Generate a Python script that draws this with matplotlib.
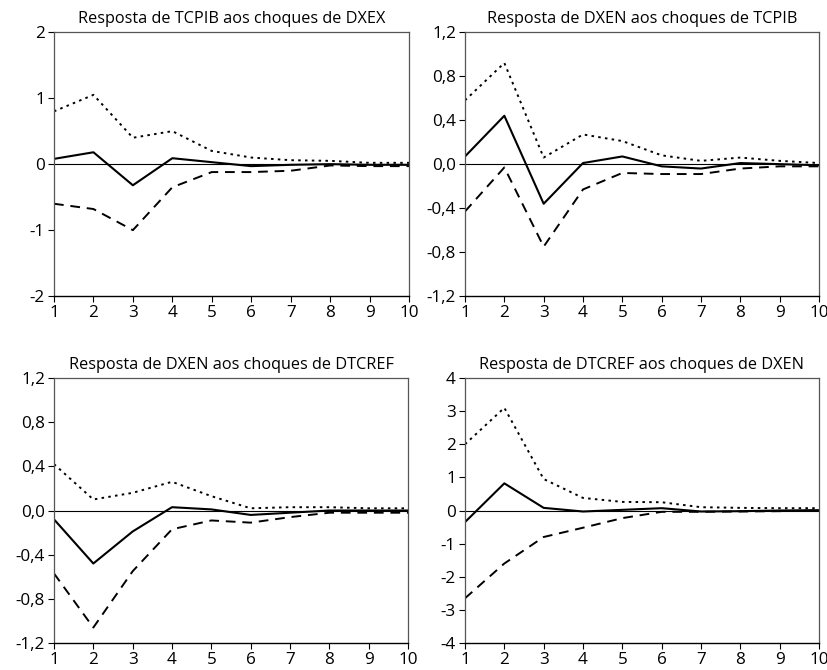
import numpy as np
import matplotlib
matplotlib.use('Agg')
import matplotlib.pyplot as plt

plt.rcParams['font.family'] = ['Open Sans', 'DejaVu Sans']

# --- Dati (periodi 1..10) ---
periodi = np.arange(1, 11)

# Resposta de TCPIB aos choques de DXEX
tcpib_dxex = [0.08, 0.18, -0.32, 0.09, 0.03, -0.03, -0.01, 0.0, -0.01, -0.01]
tcpib_dxex_sup = [0.80, 1.05, 0.40, 0.50, 0.20, 0.10, 0.06, 0.05, 0.02, 0.02]
tcpib_dxex_inf = [-0.60, -0.68, -1.00, -0.35, -0.12, -0.12, -0.10, -0.02, -0.03, -0.03]

# Resposta de DXEN aos choques de TCPIB
dxen_tcpib = [0.07, 0.44, -0.36, 0.01, 0.07, -0.02, -0.04, 0.01, 0.0, -0.01]
dxen_tcpib_sup = [0.58, 0.92, 0.06, 0.27, 0.21, 0.08, 0.03, 0.06, 0.03, 0.01]
dxen_tcpib_inf = [-0.43, -0.03, -0.75, -0.23, -0.08, -0.09, -0.09, -0.04, -0.02, -0.02]

# Resposta de DXEN aos choques de DTCREF
dxen_dtcref = [-0.08, -0.48, -0.19, 0.03, 0.01, -0.04, -0.02, 0.0, 0.0, 0.0]
dxen_dtcref_sup = [0.42, 0.10, 0.16, 0.26, 0.13, 0.02, 0.03, 0.03, 0.02, 0.02]
dxen_dtcref_inf = [-0.57, -1.06, -0.55, -0.17, -0.09, -0.11, -0.06, -0.02, -0.02, -0.02]

# Resposta de DTCREF aos choques de DXEN
dtcref_dxen = [-0.35, 0.82, 0.08, -0.03, 0.02, 0.07, -0.03, -0.02, 0.0, 0.01]
dtcref_dxen_sup = [2.00, 3.10, 0.95, 0.38, 0.26, 0.25, 0.10, 0.08, 0.07, 0.07]
dtcref_dxen_inf = [-2.65, -1.60, -0.80, -0.52, -0.23, -0.04, -0.04, -0.03, -0.02, 0.0]

titoli = ['Resposta de TCPIB aos choques de DXEX',
          'Resposta de DXEN aos choques de TCPIB',
          'Resposta de DXEN aos choques de DTCREF',
          'Resposta de DTCREF aos choques de DXEN']

yticks_int = [-2, -1, 0, 1, 2]
yticks_dec = [-1.2, -0.8, -0.4, 0.0, 0.4, 0.8, 1.2]
yticks_4 = [-4, -3, -2, -1, 0, 1, 2, 3, 4]

pannelli = [
    (tcpib_dxex, tcpib_dxex_sup, tcpib_dxex_inf, yticks_int, False),
    (dxen_tcpib, dxen_tcpib_sup, dxen_tcpib_inf, yticks_dec, True),
    (dxen_dtcref, dxen_dtcref_sup, dxen_dtcref_inf, yticks_dec, True),
    (dtcref_dxen, dtcref_dxen_sup, dtcref_dxen_inf, yticks_4, False),
]

# posizioni assi (in frazioni della figura)
posizioni = [
    [0.0652, 0.558, 0.4288, 0.394],
    [0.5616, 0.558, 0.4275, 0.394],
    [0.0652, 0.0403, 0.4276, 0.3955],
    [0.5616, 0.0403, 0.4275, 0.3955],
]

fig = plt.figure(figsize=(8.28, 6.70), dpi=100)

for (resp, sup, inf, yt, decimali), pos, titolo in zip(pannelli, posizioni, titoli):
    ax = fig.add_axes(pos)
    ax.axhline(0, color='black', linewidth=0.8, zorder=1)
    ax.plot(periodi, resp, color='black', linewidth=1.5, linestyle='-')
    ax.plot(periodi, sup, color='black', linewidth=1.4, linestyle=(0, (1.3, 2.2)))
    ax.plot(periodi, inf, color='black', linewidth=1.4, linestyle=(0, (5, 3.5)))

    ax.set_xlim(1, 10)
    ax.set_ylim(yt[0], yt[-1])
    ax.set_xticks(periodi)
    ax.set_yticks(yt)
    if decimali:
        ax.set_yticklabels([('%.1f' % v).replace('.', ',') for v in yt])
    else:
        ax.set_yticklabels([str(v) for v in yt])

    ax.tick_params(direction='out', length=4, width=0.8, labelsize=12.3, pad=2.5)
    for lato in ['left', 'top', 'right']:
        ax.spines[lato].set_color('#555555')
        ax.spines[lato].set_linewidth(0.9)
    ax.spines['bottom'].set_color('black')
    ax.spines['bottom'].set_linewidth(1.0)
    ax.set_title(titolo, fontsize=11.7, pad=6.5)

fig.savefig('out.png', dpi=100)
